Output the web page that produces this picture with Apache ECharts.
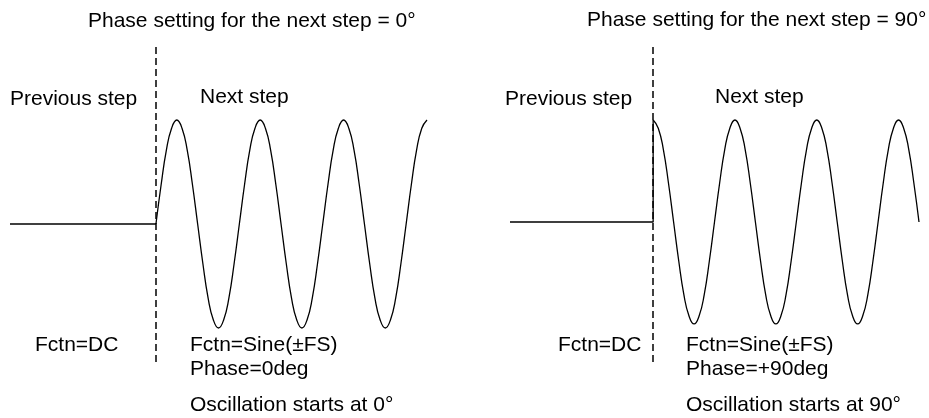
<!DOCTYPE html>
<html>
<head>
<meta charset="utf-8">
<script src="https://cdn.jsdelivr.net/npm/echarts@6/dist/echarts.min.js"></script>
<style>
html,body{margin:0;padding:0;background:#fff;}
#main{width:929px;height:418px;}
</style>
</head>
<body>
<div id="main"></div>
<script>
// x unit: 1/16 of an oscillation period; step change at x = 0
const stepStart = -28;
const dcLevel = 0;
const leftWave = [
  0,0.38,0.71,0.92,1,0.92,0.71,0.38,0,-0.38,-0.71,-0.92,-1,-0.92,-0.71,-0.38,
  0,0.38,0.71,0.92,1,0.92,0.71,0.38,0,-0.38,-0.71,-0.92,-1,-0.92,-0.71,-0.38,
  0,0.38,0.71,0.92,1,0.92,0.71,0.38,0,-0.38,-0.71,-0.92,-1,-0.92,-0.71,-0.38,
  0,0.38,0.71,0.92,1
];
// Sine, phase +90deg
const rightWave = [
  1,0.92,0.71,0.38,0,-0.38,-0.71,-0.92,-1,-0.92,-0.71,-0.38,0,0.38,0.71,0.92,
  1,0.92,0.71,0.38,0,-0.38,-0.71,-0.92,-1,-0.92,-0.71,-0.38,0,0.38,0.71,0.92,
  1,0.92,0.71,0.38,0,-0.38,-0.71,-0.92,-1,-0.92,-0.71,-0.38,0,0.38,0.71,0.92,
  1,0.92,0.71,0.38,0
];

const titles = ['Phase setting for the next step = 0°', 'Phase setting for the next step = 90°'];
const prevLabel = 'Previous step';
const nextLabel = 'Next step';
const dcLabel = 'Fctn=DC';
const sineLabel = 'Fctn=Sine(±FS)';
const phaseLabels = ['Phase=0deg', 'Phase=+90deg'];
const startLabels = ['Oscillation starts at 0°', 'Oscillation starts at 90°'];

const FONT = '"Liberation Sans", Arial, Helvetica, sans-serif';
const chart = echarts.init(document.getElementById('main'), null, {renderer:'canvas'});

function txt(x, y, t, size) {
  return {type:'text', x:x, y:y, silent:true,
    style:{text:t, fontSize:size||21, fontFamily:FONT, fill:'#000', verticalAlign:'middle', align:'left'}};
}

const dashStyle = {color:'#000', width:1.5, type:[7,4]};
const waveStyle = {color:'#000', width:1.3};

const option = {
  animation:false,
  backgroundColor:'#fff',
  grid:[
    {left:10, right:502, top:47, bottom:56},
    {left:510, right:10, top:47, bottom:56}
  ],
  xAxis:[
    {type:'value', gridIndex:0, min:stepStart, max:leftWave.length-1, show:false},
    {type:'value', gridIndex:1, min:stepStart, max:rightWave.length-1, show:false}
  ],
  yAxis:[
    {type:'value', gridIndex:0, min:-1.327, max:1.702, show:false},
    {type:'value', gridIndex:1, min:-1.373, max:1.716, show:false}
  ],
  series:[
    {type:'line', xAxisIndex:0, yAxisIndex:0, symbol:'none', lineStyle:waveStyle,
      data:[[stepStart, dcLevel],[0, dcLevel]]},
    {type:'line', xAxisIndex:0, yAxisIndex:0, symbol:'none', smooth:true, lineStyle:waveStyle,
      data:leftWave.map((v,i)=>[i,v]),
      markLine:{silent:true, symbol:'none', label:{show:false}, lineStyle:dashStyle,
        data:[[{coord:[0,-1.327]},{coord:[0,1.702]}]]}},
    {type:'line', xAxisIndex:1, yAxisIndex:1, symbol:'none', lineStyle:waveStyle,
      data:[[stepStart, dcLevel],[0, dcLevel],[0, rightWave[0]]]},
    {type:'line', xAxisIndex:1, yAxisIndex:1, symbol:'none', smooth:true, lineStyle:waveStyle,
      data:rightWave.map((v,i)=>[i,v]),
      markLine:{silent:true, symbol:'none', label:{show:false}, lineStyle:dashStyle,
        data:[[{coord:[0,-1.373]},{coord:[0,1.716]}]]}}
  ],
  graphic:[
    txt(88, 21, titles[0]), txt(587, 20, titles[1]),
    txt(10, 99, prevLabel), txt(200, 97, nextLabel),
    txt(505, 99, prevLabel), txt(715, 97, nextLabel),
    txt(35, 345, dcLabel), txt(190, 345, sineLabel), txt(190, 369, phaseLabels[0]), txt(190, 405, startLabels[0]),
    txt(558, 345, dcLabel), txt(686, 345, sineLabel), txt(686, 369, phaseLabels[1]), txt(686, 405, startLabels[1])
  ]
};
chart.setOption(option);
</script>
</body>
</html>
